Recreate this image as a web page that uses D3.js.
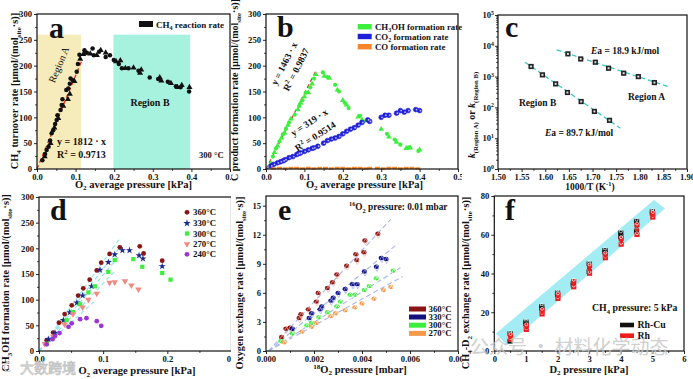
<!DOCTYPE html>
<html><head><meta charset="utf-8">
<script src="https://cdn.jsdelivr.net/npm/d3@7"></script>
<style>body{margin:0;background:#fff}svg{display:block}</style>
</head><body><svg id="c" width="693" height="379"></svg>
<script>
// ---------------- DATA ----------------
// panel a
const aCirc = [[0.014,17],[0.021,29],[0.025,37],[0.03,43],[0.034,55],[0.038,69],[0.042,75],[0.047,87],[0.051,95],[0.053,104],[0.061,114],[0.064,124],[0.066,135],[0.076,153],[0.081,156],[0.085,165],[0.087,175],[0.093,172],[0.103,188],[0.106,203],[0.11,221],[0.123,230],[0.129,225],[0.144,233],[0.147,220],[0.161,227],[0.178,217],[0.189,220],[0.199,211],[0.212,203],[0.22,195],[0.237,195],[0.263,190],[0.292,177],[0.314,174],[0.339,169],[0.36,160],[0.372,158],[0.394,150]];
const aTri = [[0.02,24],[0.035,50],[0.045,80],[0.055,98],[0.068,122],[0.08,135],[0.085,145],[0.097,170],[0.112,213],[0.12,222],[0.125,225],[0.138,223],[0.155,220],[0.165,230],[0.178,225],[0.205,208],[0.216,210],[0.229,195],[0.25,196],[0.267,186],[0.27,192],[0.318,177],[0.322,171],[0.347,166],[0.364,158],[0.375,162],[0.395,158]];
const aFit = [[0,0],[0.115,208]];
const aRegionA = [0,0.114], aRegionB = [0.198,0.397], aRegionTop = 260;
// panel b
const bMeOH = [[0.013,11],[0.018,24],[0.022,32],[0.026,40],[0.03,45],[0.035,53],[0.04,60],[0.044,67],[0.048,70],[0.052,78],[0.057,85],[0.06,90],[0.065,97],[0.075,105],[0.083,115],[0.087,122],[0.09,128],[0.095,133],[0.1,140],[0.104,148],[0.11,148],[0.115,158],[0.12,165],[0.125,175],[0.13,183],[0.148,187],[0.152,180],[0.16,178],[0.165,176],[0.18,163],[0.186,153],[0.19,150],[0.2,133],[0.205,128],[0.21,124],[0.215,118],[0.24,101],[0.245,103],[0.25,95],[0.255,92],[0.3,77],[0.315,68],[0.32,62],[0.335,57],[0.34,52],[0.35,47],[0.365,40],[0.372,42],[0.376,41],[0.397,35],[0.4,37]];
const bCO2 = [[0.013,6],[0.02,9],[0.03,12],[0.038,14],[0.045,16],[0.05,18],[0.06,22],[0.07,24],[0.08,28],[0.085,30],[0.09,31],[0.1,34],[0.11,37],[0.12,40],[0.125,41],[0.135,44],[0.15,50],[0.16,55],[0.17,58],[0.18,60],[0.19,63],[0.2,68],[0.21,73],[0.22,77],[0.23,80],[0.24,85],[0.25,90],[0.265,95],[0.27,92],[0.3,100],[0.31,104],[0.32,104],[0.34,108],[0.35,113],[0.36,110],[0.37,113],[0.39,115],[0.4,113]];
const bCO = [[0.02,1],[0.035,2],[0.05,1],[0.065,2],[0.08,2],[0.095,1],[0.11,2],[0.125,1],[0.14,2],[0.155,2],[0.17,1],[0.185,2],[0.2,2],[0.215,1],[0.23,2],[0.245,2],[0.26,1],[0.27,2],[0.29,2],[0.305,1],[0.32,2],[0.335,2],[0.35,1],[0.365,2],[0.38,2],[0.395,1]];
const bFitMeOH = [[0,0],[0.13,190]];
const bFitCO2 = [[0,0],[0.13,41]];
// panel c
const cXA = [1.648,1.675,1.706,1.734,1.766,1.797,1.831];
const cYA = [5470,3740,2930,1870,1290,1000,640];
const cXB = [1.570,1.594,1.622,1.647,1.676,1.704,1.736];
const cYB = [2130,1140,580,305,155,74,38];
const cFitA = [[1.624,7380],[1.864,455]];
const cFitB = [[1.557,2930],[1.759,21]];
// panel d
const dTemps = ["360°C","330°C","300°C","270°C","240°C"];
const d360 = [[0.012,21],[0.022,36],[0.031,55],[0.040,72],[0.051,89],[0.061,108],[0.069,122],[0.079,139],[0.090,157],[0.097,172],[0.110,189],[0.126,202],[0.157,204],[0.163,190],[0.192,176]];
const d330 = [[0.0145,23],[0.025,35],[0.038,60],[0.048,75],[0.059,94],[0.068,108],[0.082,126],[0.095,158],[0.108,173],[0.118,188],[0.130,196],[0.141,196],[0.156,186],[0.162,180],[0.192,165]];
const d300 = [[0.012,14],[0.022,25],[0.043,60],[0.053,76],[0.064,91],[0.077,114],[0.087,126],[0.108,154],[0.118,177],[0.147,179],[0.161,164],[0.192,152],[0.205,139]];
const d270 = [[0.009,14],[0.022,28],[0.040,52],[0.053,72],[0.068,85],[0.077,100],[0.090,112],[0.110,133],[0.118,134],[0.134,136],[0.144,128],[0.155,120]];
const d240 = [[0.012,13],[0.021,23],[0.025,29],[0.032,35],[0.046,47],[0.051,54],[0.064,62],[0.074,64],[0.090,58],[0.097,49]];
const dFitEnds = [[0.125,218],[0.125,200],[0.125,185],[0.12,158],[0.085,95]];
// panel e
const eTemps = ["360°C","330°C","300°C","270°C"];
const e360 = [[0.00065,1.45],[0.00083,2.3],[0.0010,2.4],[0.00138,3.4],[0.00145,3.8],[0.00176,4.3],[0.0021,5.1],[0.00217,6.0],[0.00256,6.5],[0.00277,7.1],[0.00295,7.9],[0.00336,8.8],[0.00374,10.0],[0.00378,9.4],[0.00408,10.2],[0.00412,11.4],[0.00466,12.1]];
const e330 = [[0.0011,2.3],[0.0018,3.4],[0.0019,3.9],[0.00225,4.3],[0.00232,4.6],[0.0027,5.2],[0.0028,5.5],[0.003,6.0],[0.0033,6.4],[0.0036,6.9],[0.0038,6.9],[0.0041,8.2],[0.0046,8.7],[0.0048,9.6],[0.005,9.5]];
const e300 = [[0.00062,1.0],[0.0011,1.8],[0.0017,2.65],[0.0019,2.9],[0.0022,3.5],[0.00256,4.0],[0.00295,4.6],[0.0031,5.1],[0.0035,5.8],[0.0037,5.8],[0.0041,6.3],[0.0043,6.7],[0.0046,7.5],[0.0053,8.3]];
const e270 = [[0.00076,0.9],[0.0015,2.0],[0.0019,2.5],[0.0021,2.9],[0.0027,3.6],[0.0029,3.9],[0.0033,4.2],[0.0037,4.5],[0.004,4.9],[0.0045,5.4],[0.0049,6.3],[0.0052,6.6]];
const eFitEnds = [[0.0052,13.6],[0.0055,11.1],[0.0056,8.6],[0.0057,7.7]];
// panel f
const fX = [0.5,1,1.5,2,2.5,3,3.5,4,4.5,5];
const fRhCuA = [9,15,23,30,35,45,52,61,67,72];
const fRhCuB = [5,14,22,29,34,41,51,59,62,71];
const fRhA = [8,13,21,29,36,44,50,58,65,71];
const fRhB = [6,11,19,27,33,40,48,55,60,69];
const fBand = [[0.05,9],[5.05,78],[5.4,73.5],[0.4,3]];
// ticks
const tPress = [0,0.1,0.2,0.3,0.4,0.5];
const tRate = [0,50,100,150,200,250,300];
const tInvT = [1.50,1.55,1.60,1.65,1.70,1.75,1.80,1.85,1.90];
const tLogK = [1,10,100,1000,10000,100000];
const tPressD = [0,0.1,0.2,0.3];
const tO18 = [0,0.002,0.004,0.006,0.008];
const tExch = [0,3,6,9,12,15];
const tD2 = [0,1,2,3,4,5,6];
const tF = [0,20,40,60,80];

// ---------------- HELPERS ----------------
const svg = d3.select('#c');
const FONT = "'Liberation Serif','Times New Roman',serif";
const INK = '#111';
const defs = svg.append('defs');
[[0,231],[231,462],[462,693]].forEach((c,i)=>{
  defs.append('clipPath').attr('id','col'+i).append('rect').attr('x',c[0]).attr('y',0).attr('width',c[1]-c[0]).attr('height',379);
});

function rich(t, s){
  const fs = parseFloat(t.attr('font-size'));
  const parts = s.split(/(_\{[^}]*\}|\^\{[^}]*\}|\*\{[^}]*\})/).filter(p=>p.length);
  let shift = 0;
  parts.forEach(p=>{
    let target = 0, content = p, small = false, ital = false;
    if (p.startsWith('_{')) { target = 0.28; content = p.slice(2,-1); small = true; }
    else if (p.startsWith('^{')) { target = -0.38; content = p.slice(2,-1); small = true; }
    else if (p.startsWith('*{')) { content = p.slice(2,-1); ital = true; }
    const ts = t.append('tspan').text(content);
    const dy = (target - shift) * fs;
    if (dy !== 0) ts.attr('dy', dy.toFixed(2));
    if (small) ts.attr('font-size', (fs*0.68).toFixed(2));
    if (ital) ts.attr('font-style','italic');
    shift = target;
  });
  return t;
}
function txt(g, x, y, s, fs, opt={}){
  const t = g.append('text').attr('x',x).attr('y',y).attr('font-family',FONT)
    .attr('font-weight', opt.weight||'bold').attr('font-size',fs).attr('fill',opt.fill||INK)
    .attr('text-anchor',opt.anchor||'start');
  if (opt.rot!==undefined) t.attr('transform',`rotate(${opt.rot},${x},${y})`);
  return rich(t, s);
}
function panel(o){
  const g = svg.append('g').attr('clip-path', `url(#col${o.col})`);
  const x = d3.scaleLinear().domain(o.xd).range([o.l,o.r]);
  const y = (o.ylog? d3.scaleLog(): d3.scaleLinear()).domain(o.yd).range([o.b,o.t]);
  return {g,x,y,o,bg:g.append('g'),data:g.append('g'),fg:g.append('g')};
}
function axes(p, a){
  const o = p.o, fg = p.fg;
  fg.append('g').attr('transform',`translate(0,${o.b})`)
    .call(d3.axisBottom(p.x).tickValues(a.xt).tickFormat(a.xf).tickSize(3).tickPadding(1.5));
  const ya = fg.append('g').attr('transform',`translate(${o.l},0)`)
    .call(d3.axisLeft(p.y).tickValues(a.yt).tickFormat(a.yf||'').tickSize(3).tickPadding(2));
  if (a.xm) fg.append('g').attr('transform',`translate(0,${o.b})`)
    .call(d3.axisBottom(p.x).tickValues(a.xm).tickFormat('').tickSize(1.8));
  if (a.ym) fg.append('g').attr('transform',`translate(${o.l},0)`)
    .call(d3.axisLeft(p.y).tickValues(a.ym).tickFormat('').tickSize(1.8));
  fg.selectAll('.domain').remove();
  fg.selectAll('.tick text').attr('font-family',FONT).attr('font-weight','bold').attr('font-size',8.6).attr('fill',INK);
  fg.selectAll('.tick line').attr('stroke',INK).attr('stroke-width',0.9);
  if (a.ysup) {
    ya.selectAll('.tick').each(function(d){
      const t = d3.select(this).append('text').attr('x',-4).attr('dy','0.32em')
        .attr('text-anchor','end').attr('font-family',FONT).attr('font-weight','bold')
        .attr('font-size',8.6).attr('fill',INK);
      rich(t, '10^{'+Math.round(Math.log10(d))+'}');
    });
  }
  fg.append('rect').attr('x',o.l).attr('y',o.t).attr('width',o.r-o.l).attr('height',o.b-o.t)
    .attr('fill','none').attr('stroke',INK).attr('stroke-width',1.2);
}
const f1 = d3.format('.1f'), f2 = d3.format('.2f'), f3 = d3.format('.3f'), fd = d3.format('d');
function minorLin(ticks){ const r=[]; for(let i=0;i<ticks.length-1;i++) r.push((ticks[i]+ticks[i+1])/2); return r; }
function sym(g, type, size, pts, p, fill, stroke){
  g.selectAll(null).data(pts).join('path')
    .attr('d', d3.symbol().type(type).size(size))
    .attr('transform', d=>`translate(${p.x(d[0])},${p.y(d[1])})`)
    .attr('fill', fill).attr('stroke', stroke||'none').attr('stroke-width',0.6);
}
function line(g, p, pts, color, dash, w){
  g.append('path').attr('d', d3.line().x(d=>p.x(d[0])).y(d=>p.y(d[1]))(pts))
    .attr('fill','none').attr('stroke',color).attr('stroke-dasharray',dash).attr('stroke-width',w||1.2);
}

// ---------------- PANEL A ----------------
const pa = panel({col:0,l:37,r:230,t:14,b:169,xd:[0,0.5],yd:[0,300]});
pa.bg.append('rect').attr('x',pa.x(aRegionA[0])).attr('y',pa.y(aRegionTop))
  .attr('width',pa.x(aRegionA[1])-pa.x(aRegionA[0])).attr('height',pa.y(0)-pa.y(aRegionTop)).attr('fill','#f6ecbb');
pa.bg.append('rect').attr('x',pa.x(aRegionB[0])).attr('y',pa.y(aRegionTop))
  .attr('width',pa.x(aRegionB[1])-pa.x(aRegionB[0])).attr('height',pa.y(0)-pa.y(aRegionTop)).attr('fill','#a7f2de');
line(pa.data, pa, aFit, '#e0301e', '4,3', 1.3);
sym(pa.data, d3.symbolCircle, 16, aCirc, pa, '#111');
sym(pa.data, d3.symbolTriangle, 16, aTri, pa, '#111');
axes(pa, {xt:tPress, xf:f1, yt:tRate, yf:fd, xm:minorLin(tPress), ym:minorLin(tRate)});
txt(pa.fg, 49, 38, 'a', 30);
pa.fg.append('rect').attr('x',139).attr('y',21).attr('width',14).attr('height',6).attr('fill','#111');
txt(pa.fg, 156, 27.5, 'CH_{4} reaction rate', 9);
txt(pa.fg, 62, 66, 'Region A', 10, {anchor:'middle', rot:-67, weight:'normal'});
txt(pa.fg, 57, 145, 'y = 1812 · x', 10);
txt(pa.fg, 57, 158, 'R^{2} = 0.9713', 10);
txt(pa.fg, 150, 106, 'Region B', 10, {anchor:'middle'});
txt(pa.fg, 199, 158, '300 °C', 8.6);
txt(pa.fg, 18, 91, 'CH_{4} turnover rate [μmol/(mol_{site}·s)]', 10.3, {anchor:'middle', rot:-90});
txt(pa.fg, 133.5, 187.5, 'O_{2} average pressure [kPa]', 10.5, {anchor:'middle'});

// ---------------- PANEL B ----------------
const pb = panel({col:1,l:266,r:458,t:14,b:169,xd:[0,0.5],yd:[0,300]});
line(pb.data, pb, bFitMeOH, '#e0301e', '4,3', 1.2);
line(pb.data, pb, bFitCO2, '#3f3fbf', '4,3', 1.2);
sym(pb.data, d3.symbolTriangle, 14, bMeOH.filter((d,i)=>i%2==0), pb, '#3def3d');
sym(pb.data, d3.symbolCircle, 14, bMeOH.filter((d,i)=>i%2==1), pb, '#3def3d');
sym(pb.data, d3.symbolCircle, 18, bCO2, pb, '#2020d8', '#2020d8');
pb.data.selectAll(null).data(bCO2).join('circle').attr('cx',d=>pb.x(d[0])+0.8).attr('cy',d=>pb.y(d[1])).attr('r',0.9).attr('fill','#b8b8ff');
pb.data.selectAll(null).data(bCO).join('rect').attr('x',d=>pb.x(d[0])-2.5).attr('y',d=>pb.y(d[1])-1.2)
  .attr('width',5).attr('height',2.4).attr('fill','#f5862a');
axes(pb, {xt:tPress, xf:f1, yt:tRate, yf:fd, xm:minorLin(tPress), ym:minorLin(tRate)});
txt(pb.fg, 277, 37, 'b', 30);
[['#3def3d','CH_{3}OH formation rate'],['#2020d8','CO_{2} formation rate'],['#f5862a','CO formation rate']].forEach((d,i)=>{
  const yy = [26.7,36.5,46.7][i];
  pb.fg.append('rect').attr('x',357.7).attr('y',yy-2.7).attr('width',14).attr('height',5.4).attr('fill',d[0]);
  txt(pb.fg, 375, yy+3, d[1], 8.8);
});
txt(pb.fg, 287, 65, 'y = 1463 · x', 9.5, {anchor:'middle', rot:-63});
txt(pb.fg, 299, 71, 'R^{2} = 0.9837', 9.5, {anchor:'middle', rot:-63});
txt(pb.fg, 311, 125, 'y = 319 · x', 9.5, {anchor:'middle', rot:-33});
txt(pb.fg, 317, 139, 'R^{2} = 0.9514', 9.5, {anchor:'middle', rot:-33});
txt(pb.fg, 238, 90, 'C product formation rate [μmol/(mol_{site}·s)]', 10, {anchor:'middle', rot:-90});
txt(pb.fg, 364.5, 187.5, 'O_{2} average pressure [kPa]', 10.5, {anchor:'middle'});

// ---------------- PANEL C ----------------
const pc = panel({col:2,l:498,r:687,t:15,b:169,xd:[1.5,1.9],yd:[1,100000],ylog:true});
line(pc.data, pc, cFitA, '#3cc8c8', '5,3', 1.3);
line(pc.data, pc, cFitB, '#3cc8c8', '5,3', 1.3);
function cMarks(xs, ys){
  const pts = xs.map((v,i)=>[v,ys[i]]);
  pc.data.selectAll(null).data(pts).join('rect').attr('x',d=>pc.x(d[0])-2.6).attr('y',d=>pc.y(d[1])-2.6)
    .attr('width',5.2).attr('height',5.2).attr('fill','#222');
  pc.data.selectAll(null).data(pts).join('rect').attr('x',d=>pc.x(d[0])-1).attr('y',d=>pc.y(d[1])-1)
    .attr('width',2).attr('height',2).attr('fill','#ddd');
}
cMarks(cXA, cYA); cMarks(cXB, cYB);
const cMinor = []; tLogK.slice(0,-1).forEach(b=>{ for(let k=2;k<10;k++) cMinor.push(b*k); });
axes(pc, {xt:tInvT, xf:f2, yt:tLogK, ysup:true, xm:minorLin(tInvT), ym:cMinor});
txt(pc.fg, 505, 37, 'c', 30);
txt(pc.fg, 591, 54, '*{E}a = 18.9 kJ/mol', 9.5);
txt(pc.fg, 628, 100, 'Region A', 9.5);
txt(pc.fg, 519, 106, 'Region B', 9.5);
txt(pc.fg, 545, 136, '*{E}a = 89.7 kJ/mol', 9.5);
txt(pc.fg, 475, 115, '*{k}_{(Region A)} or *{k}_{(Region B)}', 10, {anchor:'middle', rot:-90});
txt(pc.fg, 590, 189.5, '1000/T (K^{-1})', 9.5, {anchor:'middle'});

// ---------------- PANEL D ----------------
const pd = panel({col:0,l:39,r:231.5,t:197,b:351,xd:[0,0.3],yd:[0,300]});
dFitEnds.forEach(e=>line(pd.data, pd, [[0,0],e], '#8fe3ea', '4,3', 1.1));
const dSeries = [d360,d330,d300,d270,d240];
const dColors = ['#8b1414','#1c2a8c','#3def3d','#f08a82','#9a35d6'];
const dSyms = [d3.symbolCircle, d3.symbolStar, d3.symbolSquare, d3.symbolTriangle, d3.symbolCircle];
dSeries.forEach((s,i)=>{
  const g = pd.data.append('g');
  sym(g, dSyms[i], i==1?16:18, s, pd, dColors[i]);
  if (i==3) g.selectAll('path').attr('transform', d=>`translate(${pd.x(d[0])},${pd.y(d[1])}) rotate(180)`);
});
axes(pd, {xt:tPressD, xf:f1, yt:tRate, yf:fd, xm:minorLin(tPressD), ym:minorLin(tRate)});
txt(pd.fg, 50, 220, 'd', 30);
dTemps.forEach((t,i)=>{
  const yy = [212.3,223.3,233.5,244,254.3][i];
  pd.fg.append('path').attr('d', d3.symbol().type(dSyms[i]).size(18)())
    .attr('transform', `translate(187,${yy})${i==3?' rotate(180)':''}`).attr('fill', dColors[i]);
  txt(pd.fg, 193, yy+3, t, 8.8);
});
txt(pd.fg, 9, 283, 'CH_{3}OH formation rate [μmol/(mol_{site}·s)]', 10.3, {anchor:'middle', rot:-90});
txt(pd.fg, 137, 374, 'O_{2} average pressure [kPa]', 10.5, {anchor:'middle'});

// ---------------- PANEL E ----------------
const pe = panel({col:1,l:266,r:458,t:196,b:351,xd:[0,0.008],yd:[0,16]});
eFitEnds.forEach(e=>line(pe.data, pe, [[0.0001,0],e], '#a9b6ec', '5,3', 1.1));
const eSeries = [e360,e330,e300,e270];
const eColors = ['#8b1414','#13137e','#3def3d','#f59a4a'];
eSeries.forEach((s,i)=>{
  const g = pe.data.append('g');
  g.selectAll(null).data(s).join('ellipse').attr('cx',d=>pe.x(d[0])).attr('cy',d=>pe.y(d[1]))
    .attr('rx',2.6).attr('ry',2.2).attr('fill',eColors[i]);
  g.selectAll(null).data(s).join('path')
    .attr('d', d3.symbol().type(d3.symbolDiamond).size(12))
    .attr('transform', d=>`translate(${pe.x(d[0])+0.6},${pe.y(d[1])+1.4})`)
    .attr('fill','none').attr('stroke', i==0?'#f2b0a8':(i==1?'#9aa4ee':'#ffffff')).attr('stroke-width',0.7);
});
axes(pe, {xt:tO18, xf:f3, yt:tExch, yf:fd, xm:minorLin(tO18), ym:minorLin(tExch)});
txt(pe.fg, 278, 220, 'e', 30);
txt(pe.fg, 349, 210, '^{16}O_{2} pressure:  0.01 mbar', 9.3);
eTemps.forEach((t,i)=>{
  const yy = [309,317,325.2,333.4][i];
  pe.fg.append('rect').attr('x',409).attr('y',yy-2.5).attr('width',17).attr('height',5).attr('fill',eColors[i]);
  txt(pe.fg, 428.5, yy+3, t, 8.8);
});
txt(pe.fg, 243, 283, 'Oxygen exchange rate  [μmol/(mol_{site}·s)]', 10.3, {anchor:'middle', rot:-90});
txt(pe.fg, 360, 372.5, '^{18}O_{2} pressure [mbar]', 10.5, {anchor:'middle'});

// ---------------- PANEL F ----------------
const pf = panel({col:2,l:494.3,r:684,t:196,b:351,xd:[0,6],yd:[0,80]});
pf.bg.append('path').attr('d', d3.line().x(d=>pf.x(d[0])).y(d=>pf.y(d[1]))(fBand)+'Z').attr('fill','#a3ecf4');
function fMarks(ys1, ys2, color, dx){
  [ys1, ys2].forEach(ys=>{
    const pts = fX.map((v,i)=>[v,ys[i]]);
    pf.data.selectAll(null).data(pts).join('rect').attr('x',d=>pf.x(d[0])-2.6+dx).attr('y',d=>pf.y(d[1])-2.3)
      .attr('width',5.2).attr('height',4.6).attr('fill',color);
    pf.data.selectAll(null).data(pts).join('circle').attr('cx',d=>pf.x(d[0])+dx).attr('cy',d=>pf.y(d[1])-1.5)
      .attr('r',1.5).attr('fill','none').attr('stroke','#fff').attr('stroke-width',0.7);
  });
  const mids = fX.map((v,i)=>[v,(ys1[i]+ys2[i])/2]);
  pf.data.selectAll(null).data(mids).join('rect').attr('x',d=>pf.x(d[0])-1.8+dx).attr('y',d=>pf.y(d[1])-1.5)
    .attr('width',3.6).attr('height',3).attr('fill',color);
}
fMarks(fRhCuA, fRhCuB, '#111', 0);
fMarks(fRhA, fRhB, '#ee1c1c', 0.4);
axes(pf, {xt:tD2, xf:fd, yt:tF, yf:fd, xm:minorLin(tD2), ym:minorLin(tF)});
txt(pf.fg, 505, 220, 'f', 30);
txt(pf.fg, 592, 311, 'CH_{4} pressure: 5 kPa', 9.8);
[['#111','Rh-Cu'],['#ee1c1c','Rh']].forEach((d,i)=>{
  const yy = [325,335.7][i];
  pf.fg.append('rect').attr('x',620).attr('y',yy-2.3).attr('width',14).attr('height',4.6).attr('fill',d[0]);
  txt(pf.fg, 637.5, yy+3.3, d[1], 9.8);
});
txt(pf.fg, 469, 283, 'CH_{4}-D_{2} exchange rate [μmol/(mol_{site}·s)]', 10.3, {anchor:'middle', rot:-90});
txt(pf.fg, 589, 372.5, 'D_{2} pressure [kPa]', 10.5, {anchor:'middle'});

// ---------------- WATERMARKS ----------------
svg.append('text').attr('x',470).attr('y',354).attr('font-family',"'Noto Sans CJK SC',sans-serif")
  .attr('font-size',19).attr('fill','#c8c8c8').attr('opacity',0.85).text('公众号 · 材料化学动态');
svg.append('text').attr('x',20).attr('y',373).attr('font-family',"'Noto Sans CJK SC',sans-serif")
  .attr('font-size',14).attr('fill','none').attr('stroke','#c4c4c4').attr('stroke-width',0.8).text('大数跨境');
svg.append('text').attr('x',3).attr('y',372).attr('font-family',"'Noto Sans CJK SC',sans-serif")
  .attr('font-size',13).attr('fill','#d0d0d0').text('C');
</script>
</body></html>
